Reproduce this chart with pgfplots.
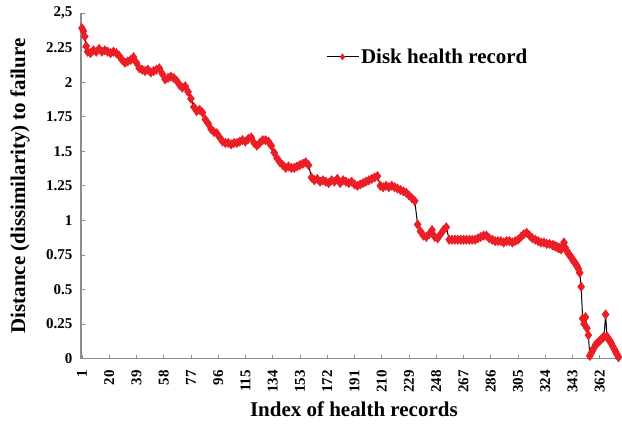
\documentclass[border=0pt]{standalone}
\usepackage{pgfplots}
\pgfplotsset{compat=1.18}
\usepackage{fontspec}
\setmainfont{Liberation Serif}
\definecolor{axgray}{RGB}{140,140,140}
\definecolor{dred}{RGB}{235,30,38}
\begin{document}
\begin{tikzpicture}
\begin{axis}[
  name=ax,
  scale only axis,
  width=541pt, height=346pt,
  xmin=0.3, xmax=377, ymin=0, ymax=2.5,
  axis x line*=bottom, axis y line*=left,
  axis line style={axgray, line width=1.3pt, -},
  xtick={1,20,...,362},
  ytick={0,0.25,...,2.5},
  yticklabels={0,0.25,0.5,0.75,1,1.25,1.5,1.75,2,2.25,{2,5}},
  tick style={axgray, line width=0.8pt},
  major tick length=4pt,
  xtick align=inside, ytick align=inside,
  /pgf/number format/assume math mode=true,
  ticklabel style={font=\bfseries\fontsize{15}{15}\selectfont},
  xticklabel style={rotate=90, anchor=east},
  xticklabel shift=8pt,
  yticklabel shift=5pt,
  xlabel={Index of health records},
  ylabel={Distance (dissimilarity) to failure},
  label style={font=\bfseries\fontsize{21}{21}\selectfont},
  xlabel style={at={(axis description cs:0.505,-0.1474)}, anchor=center},
  ylabel style={at={(axis description cs:-0.1128,0.5)}, anchor=center, rotate=0},
  legend style={draw=none, fill=none, at={(rel axis cs:0.453,0.873)}, anchor=west,
    font=\bfseries\fontsize{21}{21}\selectfont, inner sep=0pt},
  legend cell align=left,
  legend image code/.code={%
    \draw[black, line width=1.2pt] (0pt,0pt) -- (32pt,0pt);
    \draw[dred, fill=dred] plot[mark=diamond*, mark size=3pt] coordinates {(16pt,0pt)};
  },
  clip=false,
]
\addplot[black, line width=1pt, mark=diamond*, mark size=4.6pt,
  mark options={draw=dred, fill=dred, line width=0.6pt}] coordinates {
(1,2.39)(2,2.37)(3,2.33)(4,2.26)(5,2.22)(7,2.21)(9,2.23)(11,2.22)(13,2.24)(15,2.22)
(17,2.23)(19,2.22)(21,2.21)(23,2.22)(25,2.21)(27,2.19)(29,2.16)(31,2.14)(33,2.15)(35,2.16)
(37,2.18)(39,2.14)(41,2.10)(43,2.09)(45,2.08)(47,2.09)(49,2.07)(51,2.08)(53,2.09)(55,2.10)
(57,2.06)(59,2.02)(61,2.03)(63,2.04)(65,2.03)(67,2.01)(69,1.98)(71,1.96)(73,1.97)(75,1.93)
(77,1.88)(79,1.82)(81,1.79)(83,1.80)(85,1.78)(87,1.73)(89,1.70)(91,1.66)(93,1.64)(95,1.63)
(97,1.60)(99,1.57)(101,1.56)(103,1.56)(105,1.55)(107,1.56)(109,1.56)(111,1.57)(113,1.58)(115,1.57)
(117,1.59)(119,1.60)(121,1.56)(123,1.54)(125,1.56)(127,1.58)(129,1.58)(131,1.57)(133,1.54)(135,1.49)
(137,1.45)(139,1.42)(141,1.40)(143,1.38)(145,1.39)(147,1.38)(149,1.38)(151,1.39)(153,1.40)(155,1.41)
(157,1.42)(159,1.40)(161,1.31)(163,1.29)(165,1.30)(167,1.28)(169,1.29)(171,1.28)(173,1.27)(175,1.29)
(177,1.28)(179,1.30)(181,1.27)(183,1.29)(185,1.28)(187,1.27)(189,1.28)(191,1.26)(193,1.25)(195,1.26)
(197,1.27)(199,1.28)(201,1.29)(203,1.30)(205,1.31)(207,1.32)(209,1.25)(211,1.24)(213,1.25)(215,1.24)
(217,1.25)(219,1.24)(221,1.23)(223,1.22)(225,1.21)(227,1.20)(229,1.18)(231,1.16)(233,1.14)(235,0.97)
(237,0.92)(239,0.89)(241,0.88)(243,0.90)(245,0.93)(247,0.88)(249,0.87)(251,0.90)(253,0.93)(255,0.95)
(257,0.86)(259,0.86)(261,0.86)(263,0.86)(265,0.86)(267,0.86)(269,0.86)(271,0.86)(273,0.86)(275,0.86)
(277,0.87)(279,0.88)(281,0.89)(283,0.89)(285,0.87)(287,0.86)(289,0.85)(291,0.85)(293,0.85)(295,0.84)
(297,0.85)(299,0.85)(301,0.84)(303,0.85)(305,0.86)(307,0.88)(309,0.90)(311,0.91)(313,0.89)(315,0.87)
(317,0.86)(319,0.85)(321,0.84)(323,0.84)(325,0.83)(327,0.83)(329,0.82)
(330,0.82)(331,0.81)(332,0.81)(333,0.80)(334,0.80)(335,0.79)(336,0.81)(337,0.84)(338,0.80)(339,0.78)
(340,0.76)(341,0.75)(342,0.73)(343,0.72)(344,0.70)(345,0.69)(346,0.67)(347,0.65)(348,0.62)(349,0.52)
(350,0.29)(351,0.25)(352,0.30)(353,0.22)(354,0.17)(355,0.02)(356,0.04)(357,0.06)(358,0.08)(359,0.10)
(360,0.11)(361,0.12)(362,0.13)(363,0.14)(364,0.15)(365,0.16)(366,0.32)(367,0.16)(368,0.14)(369,0.13)
(370,0.11)(371,0.09)(372,0.07)(373,0.05)(374,0.03)(375,0.01)
};
\addlegendentry{Disk health record}
\end{axis}
\path (ax.north west) ++(-81pt,13pt) coordinate (bbA);
\path (ax.south east) ++(0pt,-67pt) coordinate (bbB);
\path (bbA) rectangle (bbB);
\end{tikzpicture}
\end{document}
